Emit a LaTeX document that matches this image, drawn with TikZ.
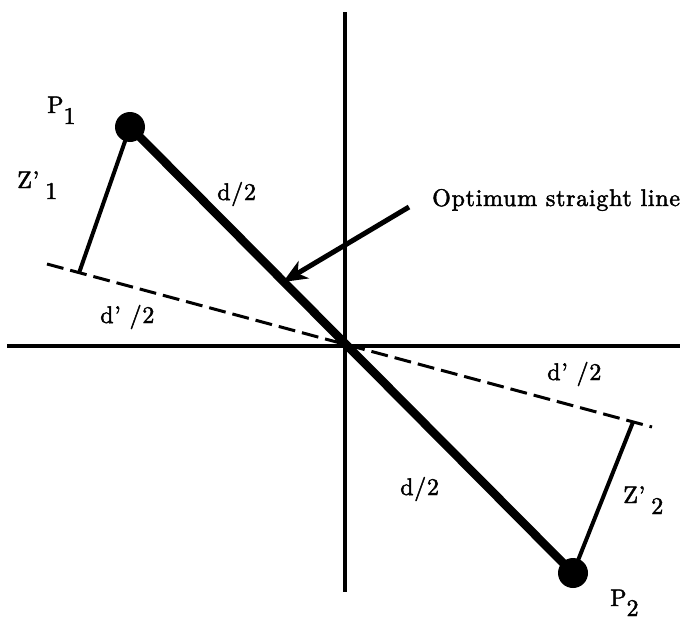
\documentclass[tikz,border=0pt]{standalone}
\usepackage{fontspec}
\usetikzlibrary{arrows.meta}
\newfontfamily\lbl{lmroman10-regular.otf}[Ligatures=TeX,LetterSpace=3,FakeBold=2]
\newcommand{\sbs}[1]{\raisebox{-11pt}{#1}}
\begin{document}
\begin{tikzpicture}[x=1pt,y=-1pt,
  axis/.style={line width=3.5pt},
  bigline/.style={line width=8.5pt},
  zline/.style={line width=4pt},
  dline/.style={line width=3pt, dash pattern=on 17pt off 7pt},
  arr/.style={line width=5pt, -{Stealth[length=24pt,width=20pt,inset=7pt]}},
  dot/.style={circle, fill=black, minimum size=30pt, inner sep=0pt},
  lab/.style={anchor=base west, inner sep=0pt, font=\lbl\fontsize{24}{28}\selectfont}]
\useasboundingbox (0,0) rectangle (689,624);
% coordinates
\coordinate (vt) at (345,12);
\coordinate (vb) at (345,592);
\coordinate (hl) at (7,346);
\coordinate (hr) at (680,346);
\coordinate (p1) at (130,127);
\coordinate (p2) at (573,573);
\coordinate (dl) at (47,264);
\coordinate (dr) at (652,427);
\coordinate (f1) at (79,273);
\coordinate (f2) at (633,422);
\coordinate (at) at (409,207);
\coordinate (ah) at (283,282);
% axes
\draw[axis] (vt) -- (vb);
\draw[axis] (hl) -- (hr);
% dashed line
\draw[dline] (dl) -- (dr);
% perpendiculars
\draw[zline] (p1) -- (f1);
\draw[zline] (p2) -- (f2);
% optimum line
\draw[bigline] (p1) -- (p2);
% dots
\node[dot] (P1) at (p1) {};
\node[dot] (P2) at (p2) {};
% arrow
\draw[arr] (at) -- (ah);
% labels
\node[lab] (lP1) at (47,113) {P\sbs{1}};
\node[lab] (lZ1) at (17,188) {Z'\hspace{6pt}\sbs{1}};
\node[lab] (ld1) at (217,200) {d/2};
\node[lab] (lopt) at (432,206) {Optimum straight line};
\node[lab] (ldp1) at (100,323) {d' /2};
\node[lab] (ldp2) at (547,380) {d' /2};
\node[lab] (ld2) at (400,495) {d/2};
\node[lab] (lZ2) at (623,503) {Z'\hspace{6pt}\sbs{2}};
\node[lab] (lP2) at (610,606) {P\raisebox{-10pt}{2}};
\end{tikzpicture}
\end{document}
